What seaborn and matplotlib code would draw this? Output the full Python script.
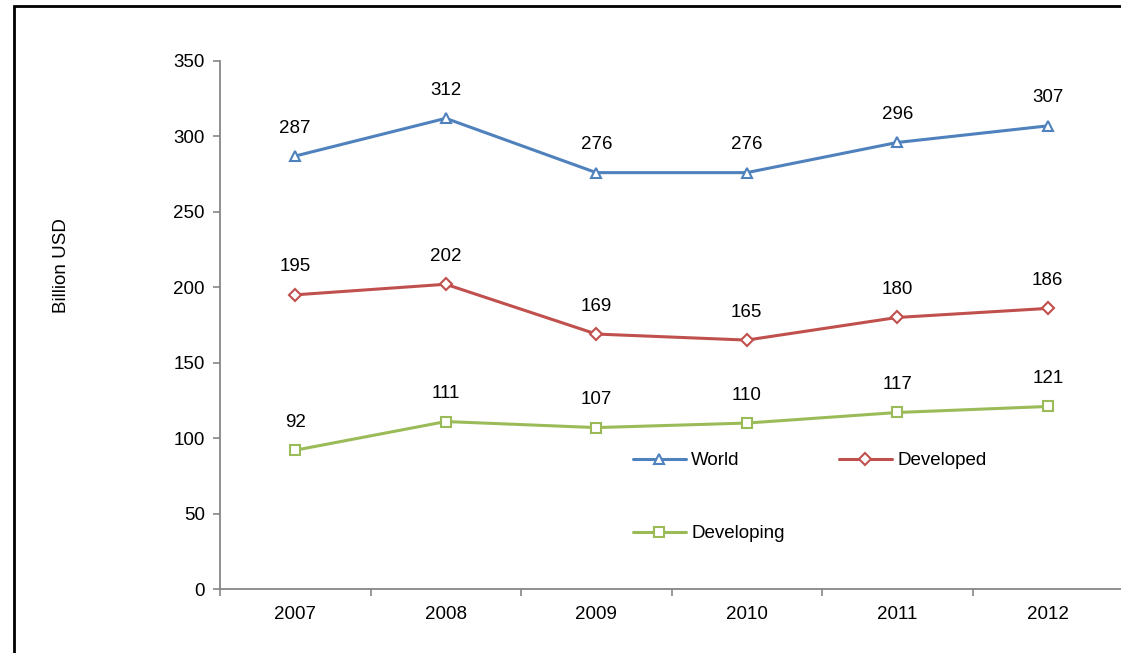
import matplotlib
matplotlib.use("Agg")
import matplotlib.pyplot as plt
import seaborn as sns
import pandas as pd
from matplotlib.patches import Rectangle

years = ["2007", "2008", "2009", "2010", "2011", "2012"]
world = [287, 312, 276, 276, 296, 307]
developed = [195, 202, 169, 165, 180, 186]
developing = [92, 111, 107, 110, 117, 121]
series_names = ["World", "Developed", "Developing"]
y_ticks = [0, 50, 100, 150, 200, 250, 300, 350]

sns.set_theme(style="white")
plt.rcParams['font.family'] = ['Liberation Sans', 'DejaVu Sans']
plt.rcParams['text.color'] = 'black'
plt.rcParams['xtick.color'] = 'black'
plt.rcParams['ytick.color'] = 'black'

W, H = 1121, 653
fig = plt.figure(figsize=(W / 100, H / 100), dpi=100)
ax = fig.add_axes([220 / W, 1 - 589 / H, (1123 - 220) / W, (589 - 61) / H])

colors = {"World": "#4F81BD", "Developed": "#C0504D", "Developing": "#9BBB59"}
markers = {"World": "^", "Developed": "D", "Developing": "s"}
msize = {"World": 7, "Developed": 6, "Developing": 6.5}
data = {"World": world, "Developed": developed, "Developing": developing}

idx = list(range(len(years)))
handles = {}
for name in series_names:
    df = pd.DataFrame({"x": idx, "y": data[name]})
    sns.lineplot(data=df, x="x", y="y", ax=ax, color=colors[name], linewidth=2.2,
                 marker=markers[name], markersize=msize[name], markerfacecolor="white",
                 markeredgecolor=colors[name], markeredgewidth=1.5, label=name)
    handles[name] = ax.lines[-1]
    for xi, v in zip(idx, data[name]):
        ax.annotate(f"{v}", (xi, v), xytext=(0, 28), textcoords="offset pixels",
                    ha="center", va="center", fontsize=13.5, color="black")

ax.set_xlim(-0.5, 5.5)
ax.set_ylim(0, 350)
ax.set_yticks(y_ticks)
ax.set_yticklabels([str(t) for t in y_ticks], fontsize=13.5)
ax.set_xticks(idx)
ax.set_xticklabels(years, fontsize=13.5)
ax.set_xticks([i - 0.5 for i in range(len(years) + 1)], minor=True)
ax.tick_params(axis="x", which="major", bottom=True, length=0, pad=12)
ax.tick_params(axis="x", which="minor", bottom=True, length=5, color="#868686", width=1.2, direction="out")
ax.tick_params(axis="y", which="major", left=True, length=5, color="#868686", width=1.2, direction="out", pad=6)
ax.set_xlabel("")
ax.set_ylabel("")
for s in ["top", "right"]:
    ax.spines[s].set_visible(False)
for s in ["left", "bottom"]:
    ax.spines[s].set_color("#868686")
    ax.spines[s].set_linewidth(1.3)
ax.grid(False)

fig.text(62 / W, 1 - 266 / H, "Billion USD", rotation=90, ha="center", va="center", fontsize=13.5)

order = ["World", "Developing", "Developed"]
ax.legend([handles[n] for n in order], order, ncol=2, loc="upper left",
          bbox_to_anchor=(633 / W, 1 - 452 / H), bbox_transform=fig.transFigure,
          frameon=False, fontsize=13.5, handlelength=2.8, handletextpad=0.3,
          columnspacing=2.9, labelspacing=3.0, borderpad=0, borderaxespad=0)

fig.patches.append(Rectangle((14 / W, -0.1), 1.2, 1 - 6 / H + 0.1, transform=fig.transFigure,
                             fill=False, edgecolor="black", linewidth=2, figure=fig))

fig.savefig("out.png", dpi=100)
